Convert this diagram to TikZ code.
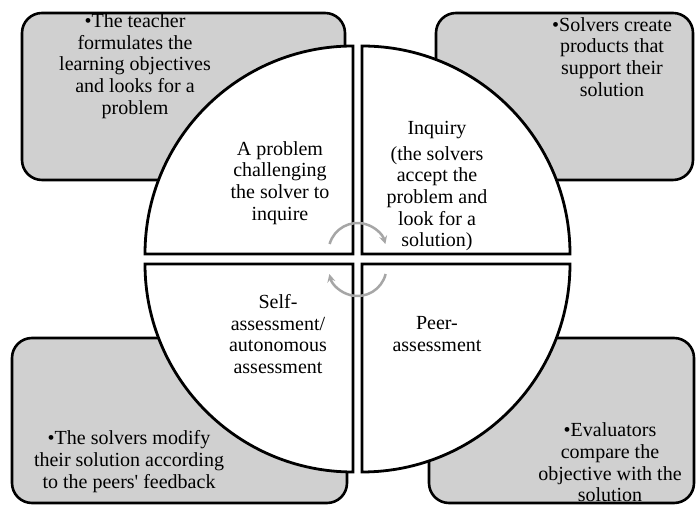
\documentclass[tikz,border=0pt]{standalone}
\usepackage{fontspec}
\setmainfont{Liberation Serif}
\usetikzlibrary{positioning, calc}
\definecolor{boxgray}{RGB}{208,208,208}
\definecolor{arcgray}{RGB}{166,166,166}

\begin{document}
\begin{tikzpicture}[
    x=1pt, y=1pt,
    panel/.style={draw, line width=2.6pt, rounded corners=20pt, fill=boxgray},
    quarter/.style={draw, line width=2.8pt, fill=white},
    txt/.style={align=center, inner sep=0pt, font=\fontsize{20}{21.7}\selectfont},
    turn/.style={->, >=stealth, line width=2.5pt, draw=arcgray}
]
\useasboundingbox (0,0) rectangle (696,505);

% Grey boxes in the corners
\draw[panel] (22,325) rectangle (345,492);
\draw[panel] (436,325) rectangle (693,492);
\draw[panel] (12,2) rectangle (347,167);
\draw[panel] (429,2) rectangle (694,167);

% Four quarters of the circle
\draw[quarter] (353,251) -- (145,251) arc (180:90:208) -- cycle;
\draw[quarter] (362,251) -- (362,459) arc (90:0:208) -- cycle;
\draw[quarter] (362,241) -- (570,241) arc (0:-90:208) -- cycle;
\draw[quarter] (353,241) -- (353,33) arc (-90:-180:208) -- cycle;

% Turning arrows in the middle
\coordinate (mid) at (357.5,245.5);
\draw[turn] ($(mid)+(164:29)+(0,7.5)$) arc (164:16:29);
\draw[turn] ($(mid)+(-14:29)+(0,-7.5)$) arc (-14:-166:29);

% Texts in the quarters
\node[txt] (problem) at (280,322) {A problem\\challenging\\the solver to\\inquire};
\node[txt] (inquiry) at (437,319) {Inquiry\\[4.3pt](the solvers\\accept the\\problem and\\look for a\\solution)};
\node[txt] (peer) at (437,171) {Peer-\\assessment};
\node[txt] (self) at (278,171) {Self-\\assessment/\\autonomous\\assessment};

% Texts in the boxes
\node[txt] (teacher) at (135,439) {•The teacher\\formulates the\\learning objectives\\and looks for a\\problem};
\node[txt] (products) at (612,448) {•Solvers create\\products that\\support their\\solution};
\node[txt] (modify) at (129,43.5) {•The solvers modify\\their solution according\\to the peers\textquotesingle{} feedback};
\node[txt] (evaluators) at (610,42.5) {•Evaluators\\compare the\\objective with the\\solution};
\end{tikzpicture}
\end{document}
